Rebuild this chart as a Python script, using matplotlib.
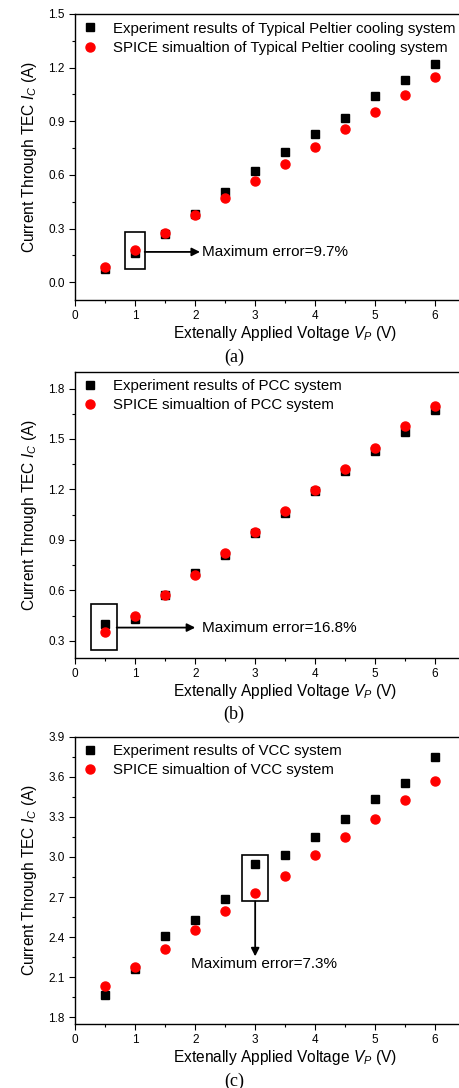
import matplotlib
matplotlib.use('Agg')
import matplotlib.pyplot as plt
from matplotlib.patches import Rectangle
from matplotlib.ticker import MultipleLocator

plt.rcParams['font.family'] = ['Liberation Sans', 'DejaVu Sans']
plt.rcParams['mathtext.fontset'] = 'custom'
plt.rcParams['mathtext.it'] = 'Liberation Sans:italic'
plt.rcParams['mathtext.rm'] = 'Liberation Sans'

# applied voltage (V)
voltage = [0.5, 1.0, 1.5, 2.0, 2.5, 3.0, 3.5, 4.0, 4.5, 5.0, 5.5, 6.0]

# (a) typical Peltier cooling system
exp_a = [0.074, 0.164, 0.27, 0.383, 0.503, 0.62, 0.73, 0.83, 0.92, 1.039, 1.13, 1.221]
sim_a = [0.082, 0.182, 0.277, 0.374, 0.471, 0.568, 0.661, 0.758, 0.855, 0.952, 1.048, 1.147]

# (b) PCC system
exp_b = [0.402, 0.428, 0.57, 0.704, 0.809, 0.94, 1.059, 1.191, 1.307, 1.43, 1.542, 1.67]
sim_b = [0.351, 0.448, 0.572, 0.694, 0.822, 0.947, 1.073, 1.197, 1.321, 1.447, 1.575, 1.698]

# (c) VCC system
exp_c = [1.969, 2.161, 2.405, 2.525, 2.684, 2.948, 3.013, 3.148, 3.282, 3.432, 3.551, 3.748]
sim_c = [2.037, 2.176, 2.311, 2.453, 2.592, 2.732, 2.856, 3.011, 3.148, 3.287, 3.427, 3.566]

names = ['Typical Peltier cooling system', 'PCC system', 'VCC system']
errors = ['9.7%', '16.8%', '7.3%']
captions = ['(a)', '(b)', '(c)']

W, H = 460, 1088
fig = plt.figure(figsize=(W / 100, H / 100), dpi=100)

# axes boxes in pixels: top, bottom (right edge runs off the page as in the scan)
boxes = [(14, 300), (371.7, 657.7), (736.7, 1024)]
left_px, right_px = 75.3, 495
ylims = [(-0.1, 1.5), (0.2, 1.9), (1.75, 3.9)]

data = [(exp_a, sim_a), (exp_b, sim_b), (exp_c, sim_c)]

axes = []
for k in range(3):
    top, bot = boxes[k]
    ax = fig.add_axes([left_px / W, 1 - bot / H, (right_px - left_px) / W, (bot - top) / H])
    exp, sim = data[k]
    ax.plot(voltage, exp, 's', color='black', ms=5.5, label='Experiment results of ' + names[k])
    ax.plot(voltage, sim, 'o', color='red', ms=6.5, label='SPICE simualtion of ' + names[k])
    ax.set_xlim(0, 7)
    ax.set_ylim(*ylims[k])
    ax.xaxis.set_minor_locator(MultipleLocator(0.5))
    ax.yaxis.set_major_locator(MultipleLocator(0.3))
    ax.yaxis.set_minor_locator(MultipleLocator(0.15))
    ax.set_xticks([0, 1, 2, 3, 4, 5, 6])
    ax.tick_params(which='both', direction='out', labelsize=8.5, colors='black')
    ax.tick_params(which='major', length=4, width=0.8)
    ax.tick_params(which='minor', length=2.5, width=0.8)
    for s in ax.spines.values():
        s.set_linewidth(1.0)
    ax.spines['right'].set_visible(False)
    ax.set_xlabel('Extenally Applied Voltage $V_P$ (V)', fontsize=11.2, labelpad=1)
    ax.set_ylabel('Current Through TEC $I_C$ (A)', fontsize=11.2, labelpad=7)
    ax.legend(loc='upper left', frameon=False, fontsize=10.8, handletextpad=1.0,
              borderaxespad=0.1, labelspacing=0.35, handlelength=1.0,
              bbox_to_anchor=(0.0, 1.0))
    fig.text(234 / W, 1 - (bot + 57) / H, captions[k], ha='center', va='center',
             fontsize=13, family=['Liberation Serif', 'DejaVu Serif'])
    axes.append(ax)

arrow = dict(arrowstyle='-|>', color='black', lw=1.3, mutation_scale=12, shrinkA=0, shrinkB=0)

# (a) annotation
ax = axes[0]
ax.add_patch(Rectangle((0.823, 0.076), 0.334, 0.205, fill=False, lw=1.2, ec='black'))
ax.annotate('', xy=(2.08, 0.169), xytext=(1.157, 0.169), arrowprops=arrow)
ax.text(2.12, 0.169, 'Maximum error=' + errors[0], fontsize=11, va='center', ha='left')

# (b) annotation
ax = axes[1]
ax.add_patch(Rectangle((0.267, 0.247), 0.423, 0.274, fill=False, lw=1.2, ec='black'))
ax.annotate('', xy=(2.0, 0.379), xytext=(0.69, 0.379), arrowprops=arrow)
ax.text(2.11, 0.379, 'Maximum error=' + errors[1], fontsize=11, va='center', ha='left')

# (c) annotation
ax = axes[2]
ax.add_patch(Rectangle((2.786, 2.667), 0.423, 0.349, fill=False, lw=1.2, ec='black'))
ax.annotate('', xy=(3.0, 2.256), xytext=(3.0, 2.667), arrowprops=arrow)
ax.text(1.93, 2.201, 'Maximum error=' + errors[2], fontsize=11, va='center', ha='left')

fig.savefig('out.png', dpi=100)
